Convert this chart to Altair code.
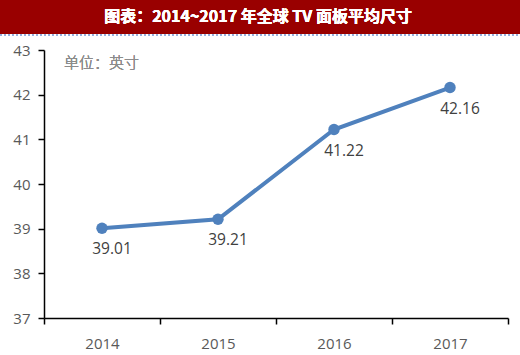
import altair as alt
import pandas as pd

years = [2014, 2015, 2016, 2017]
sizes = [39.01, 39.21, 41.22, 42.16]
labels = ["39.01", "39.21", "41.22", "42.16"]

df = pd.DataFrame({"year": years, "size": sizes, "label": labels})

FONT = "Open Sans"
GRAY = "#595959"

x = alt.X("year:Q", scale=alt.Scale(domain=[2013.5, 2017.5], nice=False, zero=False),
          axis=alt.Axis(values=[2013.5, 2014, 2014.5, 2015, 2015.5, 2016, 2016.5, 2017, 2017.5],
                        labelExpr="datum.value % 1 == 0 ? format(datum.value, 'd') : ''",
                        labelOverlap=False, labelBound=False, labelFlush=False,
                        tickOpacity={"condition": {"test": "datum.value % 1 == 0", "value": 0}, "value": 1},
                        grid=False, title=None, domainColor="black", domainWidth=1.5,
                        tickColor="black", tickWidth=1.5, tickSize=6,
                        labelPadding=12, labelFontSize=15, labelColor=GRAY, labelFont=FONT))
y = alt.Y("size:Q", scale=alt.Scale(domain=[37, 43], nice=False, zero=False),
          axis=alt.Axis(values=[37, 38, 39, 40, 41, 42, 43], grid=False, title=None,
                        domainColor="black", domainWidth=1.5, tickColor="black", tickWidth=1.5,
                        tickSize=6, labelPadding=8, labelFontSize=15, labelColor=GRAY, labelFont=FONT))

base = alt.Chart(df)

bar = base.mark_rect(color="#990000").encode(
    x=alt.value(-44), x2=alt.value(476), y=alt.value(-50), y2=alt.value(-16))
dots = base.mark_rule(color="#8EA9DB", strokeDash=[2, 2], strokeWidth=1).encode(
    x=alt.value(-44), x2=alt.value(476), y=alt.value(-15))
title = base.mark_text(text="图表：2014~2017 年全球 TV 面板平均尺寸", color="white",
                       font="Noto Sans CJK SC", fontWeight="bold", fontSize=16,
                       align="center", baseline="middle").encode(
    x=alt.value(214), y=alt.value(-33))
unit = base.mark_text(text="单位：英寸", color="#8C8C8C", font="Noto Sans CJK SC",
                      fontWeight=300, fontSize=15, align="left", baseline="middle").encode(
    x=alt.value(20), y=alt.value(13))

line = base.mark_line(color="#4F81BD", strokeWidth=4).encode(x=x, y=y)
pts = base.mark_point(filled=True, size=130, color="#4F81BD", opacity=1).encode(x=x, y=y)
txt = base.mark_text(dx=10, dy=21, fontSize=15.5, color="#404040", font=FONT).encode(
    x=x, y=y, text="label:N")

chart = alt.layer(line, pts, txt, bar, dots, title, unit).properties(
    width=464, height=268,
    autosize=alt.AutoSizeParams(type="none"),
    padding={"left": 44, "top": 50, "right": 12, "bottom": 37},
).configure(background="white").configure_view(stroke="white", strokeWidth=0)

chart.save("out.html", embed_options={"renderer": "svg", "actions": False})
